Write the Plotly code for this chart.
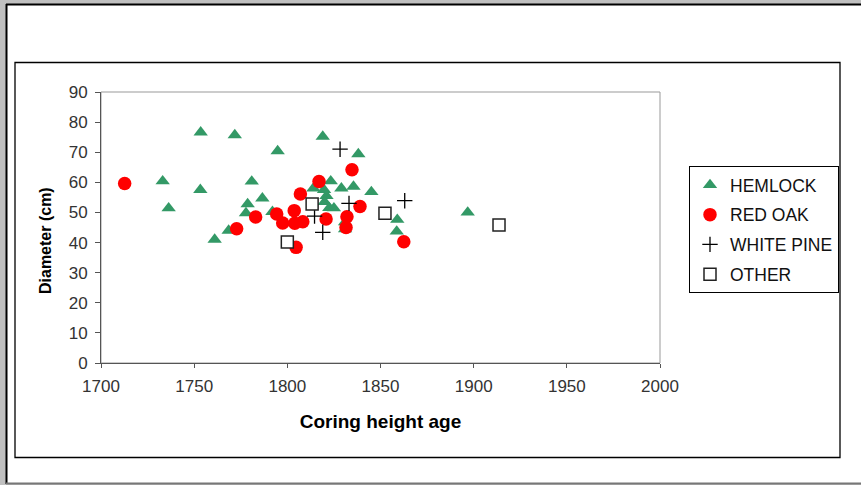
import plotly.graph_objects as go

# ---- data ----
hemlock_x = [1753.5, 1771.8, 1819.0, 1794.8, 1838.1, 1733.1, 1780.9, 1753.3, 1736.3, 1761.0,
             1768.5, 1777.8, 1778.7, 1786.6, 1792.0, 1814.0, 1819.7, 1823.3, 1829.0, 1835.5,
             1845.1, 1821.0, 1820.0, 1822.5, 1825.0, 1831.0, 1831.0, 1859.0, 1858.7, 1896.8]
hemlock_y = [76.6, 75.7, 75.2, 70.4, 69.4, 60.4, 60.3, 57.5, 51.4, 41.0,
             44.0, 49.8, 52.8, 54.7, 50.2, 58.0, 57.5, 60.4, 58.0, 58.6,
             56.8, 55.5, 53.5, 51.5, 51.4, 46.8, 44.5, 47.6, 43.7, 50.0]

redoak_x = [1712.7, 1834.7, 1817.0, 1807.0, 1839.0, 1783.0, 1772.8, 1794.3, 1803.7, 1797.5,
            1804.0, 1808.3, 1831.5, 1804.7, 1862.5, 1820.8, 1832.0]
redoak_y = [59.6, 64.2, 60.3, 56.1, 52.0, 48.5, 44.6, 49.5, 50.6, 46.5,
            46.4, 46.9, 45.0, 38.4, 40.3, 47.8, 48.6]

whitepine_x = [1828.3, 1833.1, 1863.0, 1814.6, 1819.0]
whitepine_y = [71.0, 53.0, 53.9, 48.8, 43.4]

other_x = [1813.3, 1800.0, 1852.4, 1913.6]
other_y = [52.8, 40.2, 49.7, 45.8]

x_ticks = [1700, 1750, 1800, 1850, 1900, 1950, 2000]
y_ticks = [0, 10, 20, 30, 40, 50, 60, 70, 80, 90]

# ---- layout geometry (pixels) ----
W, H = 861, 485
L, R, T, B = 101, 660, 92, 363


def px(x):
    return (x - L) / (R - L)


def py(y):
    return (B - y) / (B - T)


FONT = "Liberation Sans, Arial, sans-serif"

fig = go.Figure()
fig.add_trace(go.Scatter(x=hemlock_x, y=hemlock_y, mode="markers", name="HEMLOCK",
                         legendgroup="a",
                         marker=dict(symbol="triangle-up", size=12.5, color="#339966",
                                     line=dict(width=0))))
fig.add_trace(go.Scatter(x=redoak_x, y=redoak_y, mode="markers", name="RED OAK",
                         legendgroup="b",
                         marker=dict(symbol="circle", size=13.5, color="#ff0000",
                                     line=dict(width=0))))
fig.add_trace(go.Scatter(x=whitepine_x, y=whitepine_y, mode="markers", name="WHITE PINE",
                         legendgroup="c",
                         marker=dict(symbol="cross-thin", size=11, color="#000000",
                                     line=dict(width=1.3, color="#000000"))))
fig.add_trace(go.Scatter(x=other_x, y=other_y, mode="markers", name="OTHER",
                         legendgroup="d",
                         marker=dict(symbol="square", size=12, color="#ffffff",
                                     line=dict(width=1.5, color="#222222"))))

shapes = [
    # white page
    dict(type="rect", xref="paper", yref="paper", x0=px(6), x1=px(880), y0=py(483), y1=py(4),
         fillcolor="#ffffff", line=dict(width=0), layer="below"),
    dict(type="line", xref="paper", yref="paper", x0=px(6.5), x1=px(6.5), y0=py(484), y1=py(4),
         line=dict(color="#000000", width=2), layer="below"),
    dict(type="line", xref="paper", yref="paper", x0=px(6), x1=px(880), y0=py(4.5), y1=py(4.5),
         line=dict(color="#000000", width=2), layer="below"),
    dict(type="line", xref="paper", yref="paper", x0=px(6), x1=px(880), y0=py(483.5), y1=py(483.5),
         line=dict(color="#777777", width=2), layer="below"),
    # chart area box
    dict(type="rect", xref="paper", yref="paper", x0=px(15), x1=px(840), y0=py(457.5), y1=py(62.5),
         fillcolor="rgba(0,0,0,0)", line=dict(color="#000000", width=1.3), layer="below"),
    # plot area border
    dict(type="rect", xref="paper", yref="paper", x0=0, x1=1, y0=0, y1=1,
         fillcolor="rgba(0,0,0,0)", line=dict(color="#999999", width=1), layer="below"),
]

annotations = [
    dict(text="<b>Diameter (cm)</b>", xref="paper", yref="paper", x=px(45), y=py(241),
         xanchor="center", yanchor="middle", textangle=-90, showarrow=False,
         font=dict(family=FONT, size=16, color="#000000")),
]

fig.update_layout(
    width=W, height=H,
    margin=dict(l=L, r=W - R, t=T, b=H - B, pad=0),
    paper_bgcolor="#c0c0c0",
    plot_bgcolor="rgba(0,0,0,0)",
    font=dict(family=FONT, size=17, color="#000000"),
    shapes=shapes,
    annotations=annotations,
    showlegend=True,
    legend=dict(
        x=px(689), y=py(166), xanchor="left", yanchor="top",
        bordercolor="#000000", borderwidth=1, bgcolor="#ffffff",
        font=dict(family=FONT, size=17.5, color="#111111"),
        tracegroupgap=4, traceorder="grouped", itemsizing="trace",
    ),
    xaxis=dict(
        range=[1700, 2000], tickvals=x_ticks, ticktext=[str(v) for v in x_ticks],
        showgrid=False, zeroline=False, showline=True, linecolor="#555555", linewidth=1,
        ticks="outside", ticklen=4, tickcolor="#555555", ticklabelstandoff=4,
        tickfont=dict(family=FONT, size=17, color="#333333"),
        title=dict(text="<b>Coring height age</b>", font=dict(family=FONT, size=19, color="#000000"),
                   standoff=19),
    ),
    yaxis=dict(
        range=[0, 90], tickvals=y_ticks, ticktext=[str(v) for v in y_ticks],
        showgrid=False, zeroline=False, showline=True, linecolor="#555555", linewidth=1,
        ticks="outside", ticklen=5, tickcolor="#555555", ticklabelstandoff=4,
        tickfont=dict(family=FONT, size=17, color="#333333"),
    ),
)

fig.write_html(
    "out.html",
    config={"displayModeBar": False},
    post_script="document.body.style.margin='0px';document.body.style.background='#c0c0c0';",
)
